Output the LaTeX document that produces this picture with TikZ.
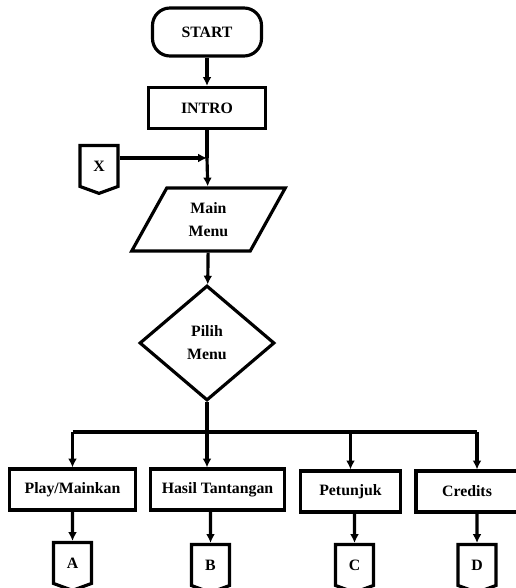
\documentclass[tikz,border=0pt]{standalone}
\usepackage{fontspec}
\setmainfont{Liberation Serif}
\usetikzlibrary{arrows.meta,shapes.geometric,shapes.symbols}

\tikzset{
  term/.style={draw,rectangle,rounded corners=0.35cm,minimum width=2.18cm,minimum height=0.96cm},
  proc/.style={draw,rectangle,minimum height=0.82cm,inner sep=2pt},
  io/.style={draw,trapezium,trapezium left angle=64,trapezium right angle=116,trapezium stretches,
    minimum width=3.08cm,minimum height=1.26cm,align=center,inner sep=0pt},
  dec/.style={draw,diamond,minimum width=2.7cm,minimum height=2.3cm,align=center,inner sep=0pt},
  offpage/.style={draw,signal,signal to=south,signal pointer angle=140,
    minimum width=0.76cm,minimum height=0.86cm,inner sep=0pt}
}

\begin{document}
\begin{tikzpicture}[node distance=2cm,line width=1.8pt,
    font=\fontsize{9}{13}\selectfont\bfseries,
    >={Latex[length=5pt,width=5pt]}]
				\useasboundingbox (0,0) rectangle (10.3,-11.76);

				\node[term] (start) at (4.14,-0.64) {START};
				\node[proc,minimum width=2.34cm] (intro) [below of=start,yshift=0.48cm] {INTRO};
				\node[io] (mainmenu) [below of=intro,yshift=-0.23cm,xshift=0.03cm] {Main\\Menu};
				\node[dec] (pilih) [below of=mainmenu,yshift=-0.47cm,xshift=-0.03cm] {Pilih\\Menu};
				\node[offpage] (x) at (1.98,-3.32) {X};
				\coordinate (join) at (intro |- 0,-3.16);
				\coordinate (bus) at ([yshift=-1.78cm]pilih.center);

				\node[proc,minimum width=2.68cm] (hasil) [below of=pilih,yshift=-0.93cm,xshift=0.21cm] {Hasil Tantangan};
				\node[proc,minimum width=2.52cm] (play) [left of=hasil,xshift=-0.9cm] {Play/Mainkan};
				\node[proc,minimum width=2cm] (petunjuk) [right of=hasil,xshift=0.66cm,yshift=-0.04cm] {Petunjuk};
				\node[proc,minimum width=2.04cm] (credits) [right of=petunjuk,xshift=0.33cm] {Credits};

				\node[offpage] (A) [below of=play,yshift=0.53cm] {A};
				\node[offpage] (B) [below of=hasil,yshift=0.49cm,xshift=-0.14cm] {B};
				\node[offpage] (C) [below of=petunjuk,yshift=0.53cm,xshift=0.08cm] {C};
				\node[offpage] (D) [below of=credits,yshift=0.53cm,xshift=0.2cm] {D};

				\draw[->] (start) -- (intro);
				\draw (intro) -- (join);
				\draw[->] (join) -- (mainmenu);
				\draw[->] (x.east |- join) -- (join);
				\draw[->] (mainmenu) -- (pilih);
				\draw[->] (pilih.south) -- (pilih.south |- hasil.north);
				\draw (bus -| play) -- (bus -| D);
				\draw[->] (bus -| play) -- (play.north);
				\draw[->] (bus -| petunjuk) -- (petunjuk.north);
				\draw[->] (bus -| D) -- (D |- credits.north);

				\draw[->] (play) -- (A);
				\draw[->] (hasil.south -| B) -- (B);
				\draw[->] (petunjuk.south -| C) -- (C);
				\draw[->] (credits.south -| D) -- (D);
\end{tikzpicture}
\end{document}
